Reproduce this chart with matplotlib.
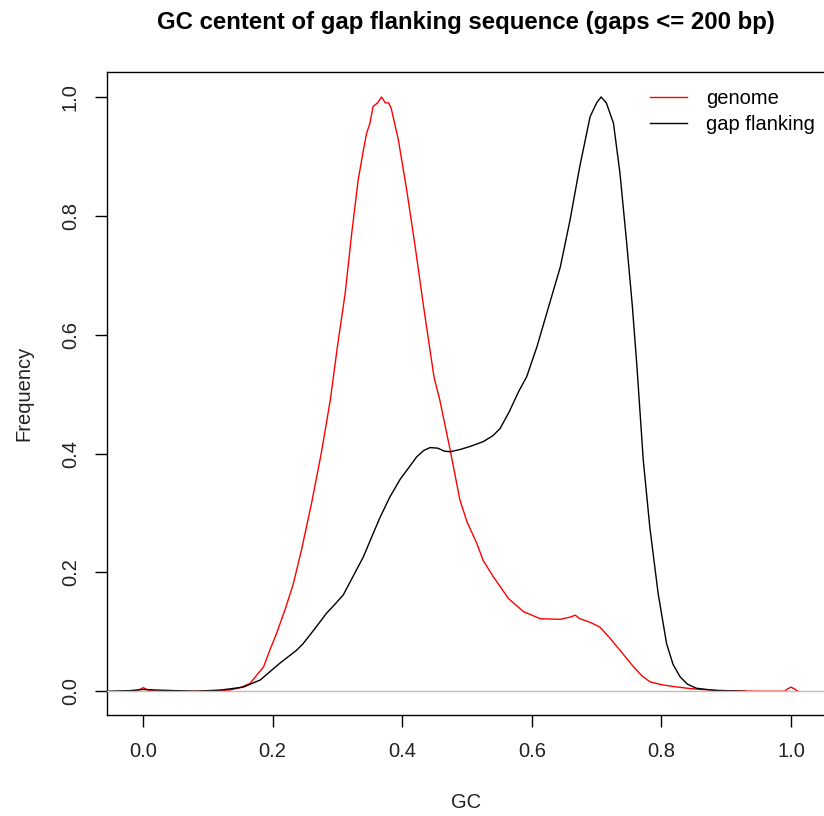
import matplotlib
matplotlib.use("Agg")
import matplotlib.pyplot as plt

plt.rcParams["font.family"] = ["Liberation Sans", "DejaVu Sans"]

# genome GC density (scaled to max 1)
genome_gc = [-0.02, -0.01, -0.003, 0.0, 0.004, 0.01, 0.03, 0.10, 0.134, 0.15,
             0.165, 0.186, 0.196, 0.206, 0.22, 0.232, 0.245, 0.26, 0.275, 0.289,
             0.30, 0.312, 0.322, 0.332, 0.34, 0.345, 0.35, 0.355, 0.362, 0.368,
             0.374, 0.379, 0.383, 0.394, 0.407, 0.42, 0.433, 0.449, 0.458, 0.474,
             0.489, 0.50, 0.515, 0.525, 0.541, 0.564, 0.587, 0.613, 0.644, 0.66,
             0.667, 0.674, 0.69, 0.705, 0.72, 0.736, 0.757, 0.77, 0.782, 0.80,
             0.818, 0.84, 0.86, 0.90, 0.95, 0.99, 0.995, 1.0, 1.005, 1.011]
genome_freq = [0.0, 0.001, 0.004, 0.006, 0.004, 0.001, 0.0, 0.0, 0.002, 0.006,
               0.013, 0.041, 0.07, 0.097, 0.14, 0.181, 0.24, 0.316, 0.40, 0.49,
               0.58, 0.67, 0.77, 0.86, 0.91, 0.939, 0.955, 0.984, 0.99, 1.0,
               0.99, 0.99, 0.981, 0.928, 0.843, 0.748, 0.647, 0.529, 0.49, 0.406,
               0.322, 0.285, 0.249, 0.22, 0.192, 0.156, 0.134, 0.122, 0.121, 0.125,
               0.128, 0.122, 0.116, 0.108, 0.09, 0.069, 0.041, 0.026, 0.016, 0.011,
               0.008, 0.005, 0.003, 0.001, 0.0, 0.0, 0.004, 0.007, 0.004, 0.0]

# gap flanking GC density (scaled to max 1)
flank_gc = [-0.055, -0.02, 0.0, 0.02, 0.05, 0.08, 0.12, 0.155, 0.181, 0.211,
            0.237, 0.247, 0.265, 0.283, 0.295, 0.309, 0.325, 0.34, 0.355, 0.366,
            0.381, 0.397, 0.41, 0.422, 0.433, 0.443, 0.455, 0.465, 0.474, 0.49,
            0.505, 0.525, 0.54, 0.551, 0.565, 0.58, 0.592, 0.608, 0.623, 0.644,
            0.659, 0.674, 0.69, 0.70, 0.707, 0.715, 0.726, 0.736, 0.746, 0.755,
            0.762, 0.772, 0.782, 0.795, 0.808, 0.818, 0.829, 0.84, 0.854, 0.885,
            0.929]
flank_freq = [0.0, 0.001, 0.003, 0.002, 0.001, 0.0, 0.002, 0.007, 0.019, 0.047,
              0.069, 0.08, 0.105, 0.131, 0.145, 0.162, 0.195, 0.226, 0.265, 0.293,
              0.327, 0.357, 0.376, 0.394, 0.405, 0.41, 0.409, 0.404, 0.403, 0.407,
              0.412, 0.42, 0.43, 0.442, 0.47, 0.505, 0.529, 0.58, 0.636, 0.714,
              0.793, 0.883, 0.967, 0.99, 1.0, 0.99, 0.956, 0.872, 0.759, 0.65,
              0.55, 0.389, 0.277, 0.164, 0.08, 0.045, 0.024, 0.012, 0.005, 0.001,
              0.0]

x_ticks = [0.0, 0.2, 0.4, 0.6, 0.8, 1.0]
y_ticks = [0.0, 0.2, 0.4, 0.6, 0.8, 1.0]

fig = plt.figure(figsize=(8.24, 8.16), dpi=100)
ax = fig.add_axes([107 / 824, 1 - 715 / 816, 719 / 824, 643 / 816])

ax.plot(genome_gc, genome_freq, color="#FF0000", linewidth=1.0, label="genome")
ax.plot(flank_gc, flank_freq, color="black", linewidth=1.0, label="gap flanking")
ax.axhline(0, color="#BEBEBE", linewidth=1.0, zorder=5)

ax.set_xlim(-0.0556, 1.054)
ax.set_ylim(-0.04, 1.042)

ax.set_xticks(x_ticks)
ax.set_xticklabels([f"{v:.1f}" for v in x_ticks])
ax.set_yticks(y_ticks)
ax.set_yticklabels([f"{v:.1f}" for v in y_ticks], rotation=90, va="center")

ax.tick_params(direction="out", length=8.5, width=1.0, labelsize=14.5,
               pad=11, color="black", labelcolor="#222222")

for spine in ax.spines.values():
    spine.set_linewidth(1.0)

ax.set_xlabel("GC", fontsize=14.5, labelpad=23, color="#222222")
ax.set_ylabel("Frequency", fontsize=14.5, labelpad=20, color="#222222")

fig.text(466 / 824, 1 - 22 / 816,
         "GC centent of gap flanking sequence (gaps <= 200 bp)",
         ha="center", va="center", fontsize=17.3, fontweight="bold")

ax.legend(loc="upper left", bbox_to_anchor=(650 / 824, 1 - 89 / 816),
          bbox_transform=fig.transFigure, frameon=False, fontsize=14.5,
          borderpad=0, borderaxespad=0, handlelength=1.85, handletextpad=0.95,
          labelspacing=0.35)

plt.savefig("out.png", dpi=100)
